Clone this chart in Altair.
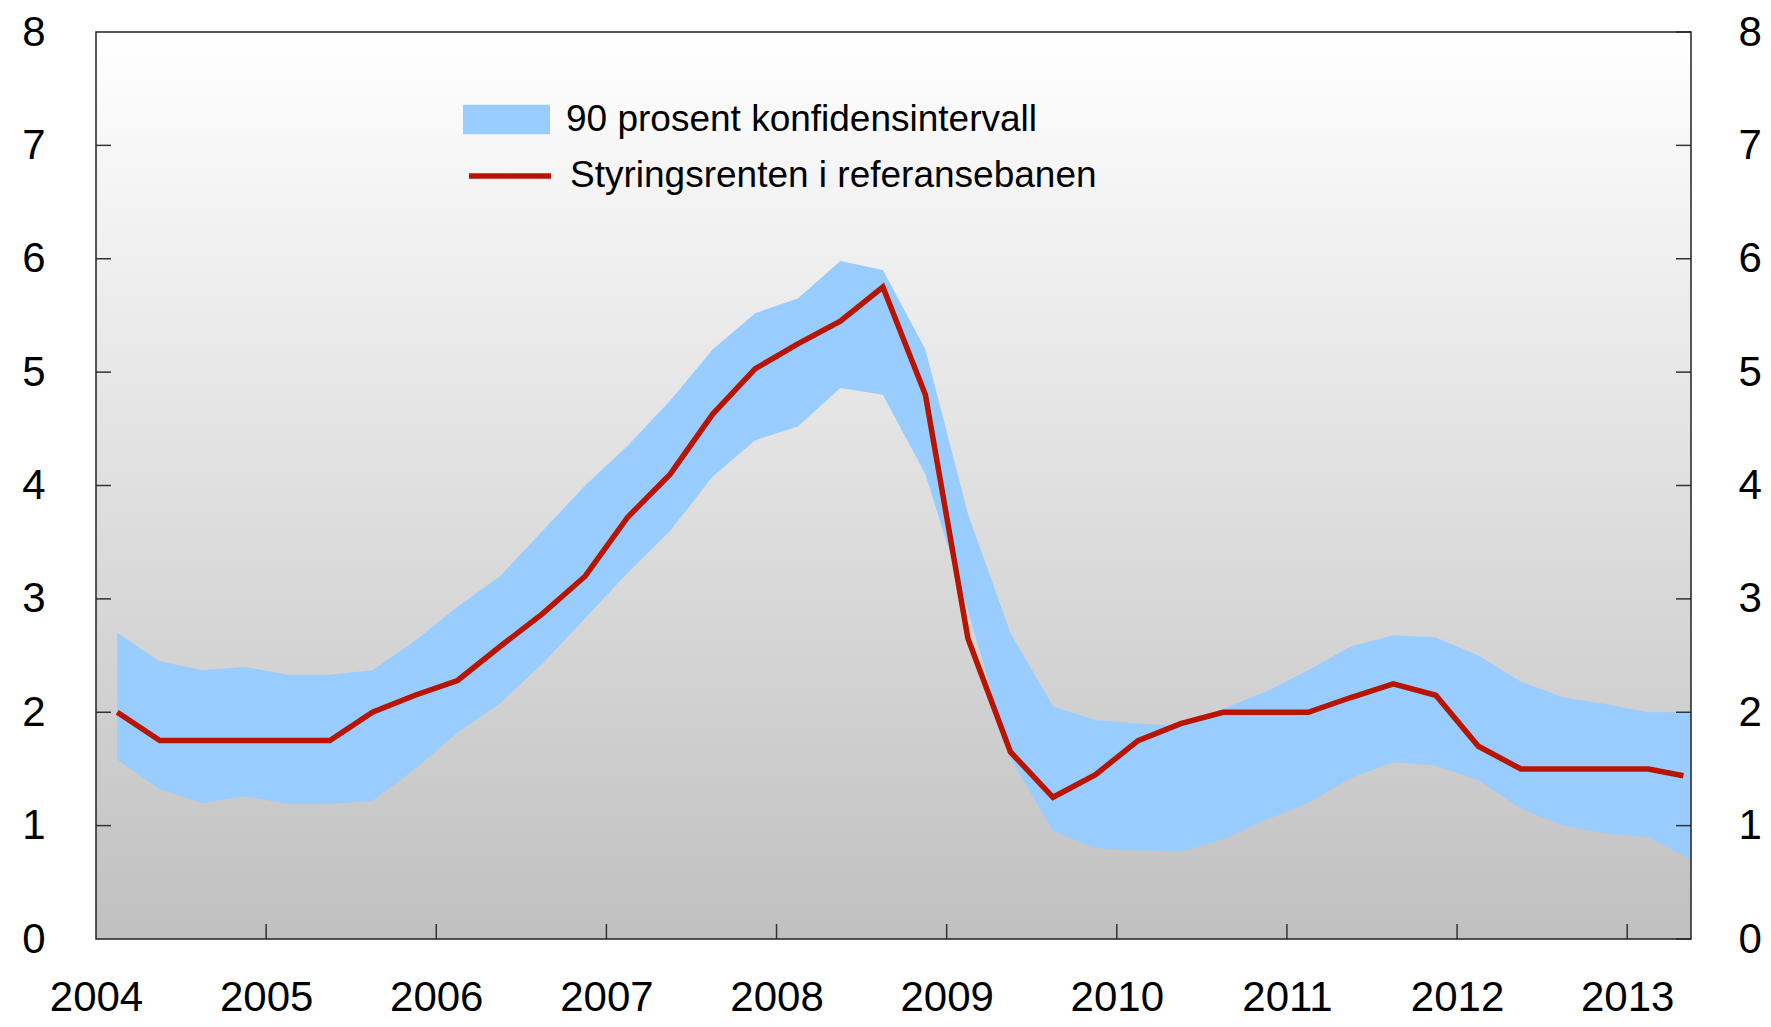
import altair as alt
import pandas as pd

# quarterly mid-points, 2004Q1 .. 2013Q2
quarters = [2004.125 + 0.25 * i for i in range(38)]

policy_rate = [2.0, 1.75, 1.75, 1.75, 1.75, 1.75, 2.0, 2.15,
               2.28, 2.58, 2.87, 3.2, 3.72, 4.1, 4.63, 5.03,
               5.25, 5.45, 5.75, 4.8, 2.65, 1.65, 1.25, 1.45,
               1.75, 1.9, 2.0, 2.0, 2.0, 2.13, 2.25, 2.15,
               1.7, 1.5, 1.5, 1.5, 1.5, 1.44]

upper = [2.7, 2.45, 2.37, 2.4, 2.33, 2.33, 2.37, 2.63,
         2.93, 3.2, 3.6, 4.0, 4.35, 4.75, 5.2, 5.52,
         5.65, 5.98, 5.9, 5.2, 3.75, 2.7, 2.05, 1.93,
         1.9, 1.88, 2.03, 2.18, 2.37, 2.58, 2.68, 2.66,
         2.5, 2.27, 2.13, 2.07, 2.0, 2.0]

lower = [1.58, 1.32, 1.2, 1.26, 1.19, 1.19, 1.22, 1.5,
         1.82, 2.08, 2.43, 2.83, 3.23, 3.6, 4.08, 4.4,
         4.52, 4.86, 4.8, 4.1, 2.9, 1.6, 0.95, 0.8,
         0.78, 0.77, 0.88, 1.05, 1.2, 1.42, 1.56, 1.53,
         1.4, 1.15, 1.0, 0.93, 0.9, 0.7]

line_t = quarters[:-1] + [2013.33]

year_labels = list(range(2004, 2014))
x_ticks = list(range(2005, 2014))
y_ticks = [1, 2, 3, 4, 5, 6, 7]
y_labels = [0, 1, 2, 3, 4, 5, 6, 7, 8]

band_name = "90 prosent konfidensintervall"
line_name = "Styringsrenten i referansebanen"

W, H = 1595, 907
FONT = "Liberation Sans"
FS = 42
LFS = 37

band_df = pd.DataFrame({"t": quarters, "lo": lower, "hi": upper, "s": band_name})
line_df = pd.DataFrame({"t": line_t, "r": policy_rate, "s": line_name})
ytick_df = pd.DataFrame({"v": y_ticks})
xtick_df = pd.DataFrame({"v": x_ticks})
one = pd.DataFrame({"a": [0]})

xscale = alt.Scale(domain=[2004, 2013.375], nice=False, zero=False)
yscale = alt.Scale(domain=[0, 8], nice=False, zero=True)

xaxis = alt.Axis(values=year_labels, format="d", title=None, ticks=False, domain=False,
                 grid=False, labelFontSize=FS, labelFont=FONT, labelColor="black",
                 labelPadding=38, labelFlush=False)

def yaxis(orient, pad):
    return alt.Axis(orient=orient, values=y_labels, format="d", title=None, ticks=False,
                    domain=False, grid=False, labelFontSize=FS, labelFont=FONT,
                    labelColor="black", labelPadding=pad, labelBaseline="middle")

bg = alt.Chart(one).mark_rect(
    fill=alt.LinearGradient(
        gradient="linear",
        stops=[alt.GradientStop(color="#ffffff", offset=0),
               alt.GradientStop(color="#c0c0c0", offset=1)],
        x1=0, x2=0, y1=0, y2=1),
).encode(x=alt.value(0), x2=alt.value(W), y=alt.value(0), y2=alt.value(H))

band = alt.Chart(band_df).mark_area(opacity=1).encode(
    x=alt.X("t:Q", scale=xscale, axis=xaxis),
    y=alt.Y("lo:Q", scale=yscale, axis=yaxis("left", 51)),
    y2="hi:Q",
    fill=alt.Fill("s:N", scale=alt.Scale(range=["#99ccff"]),
                  legend=alt.Legend(title=None, orient="none", legendX=367, legendY=44,
                                    symbolType="M-1,-0.34L1,-0.34L1,0.34L-1,0.34Z",
                                    symbolSize=7569, symbolStrokeWidth=0,
                                    labelFont=FONT, labelFontSize=LFS, labelColor="black",
                                    labelOffset=16, labelLimit=0, padding=0)),
)

line = alt.Chart(line_df).mark_line(strokeWidth=5.5, strokeJoin="miter", strokeCap="butt").encode(
    x=alt.X("t:Q", scale=xscale, axis=xaxis),
    y=alt.Y("r:Q", scale=yscale, axis=None),
    stroke=alt.Stroke("s:N", scale=alt.Scale(range=["#b81400"]),
                      legend=alt.Legend(title=None, orient="none", legendX=370, legendY=100,
                                        symbolType="stroke", symbolSize=6724,
                                        symbolStrokeWidth=5.5,
                                        labelFont=FONT, labelFontSize=LFS, labelColor="black",
                                        labelOffset=16, labelLimit=0, padding=0)),
)

yticks_left = alt.Chart(ytick_df).mark_rule(color="#333333", strokeWidth=1.5).encode(
    y=alt.Y("v:Q", scale=yscale, axis=None), x=alt.value(0), x2=alt.value(15))

yticks_right = alt.Chart(pd.DataFrame({"v": y_labels})).mark_rule(
    color="#333333", strokeWidth=1.5).encode(
    y=alt.Y("v:Q", scale=yscale, axis=yaxis("right", 47)), x=alt.value(W - 15), x2=alt.value(W))

xticks = alt.Chart(xtick_df).mark_rule(color="#333333", strokeWidth=1.5).encode(
    x=alt.X("v:Q", scale=xscale, axis=xaxis), y=alt.value(H - 15), y2=alt.value(H))

frame = alt.Chart(one).mark_rect(fillOpacity=0, stroke="#222222", strokeWidth=1.5).encode(
    x=alt.value(0), x2=alt.value(W), y=alt.value(0), y2=alt.value(H))

chart = alt.layer(bg, band, line, yticks_left, yticks_right, xticks, frame).resolve_scale(
    y="independent", fill="independent", stroke="independent"
).properties(
    width=W, height=H,
    autosize=alt.AutoSizeParams(type="none"),
    padding={"left": 88, "top": 24, "right": 72, "bottom": 80},
).configure_view(stroke=None)

chart.save("out.html", embed_options={"renderer": "svg", "actions": False})
